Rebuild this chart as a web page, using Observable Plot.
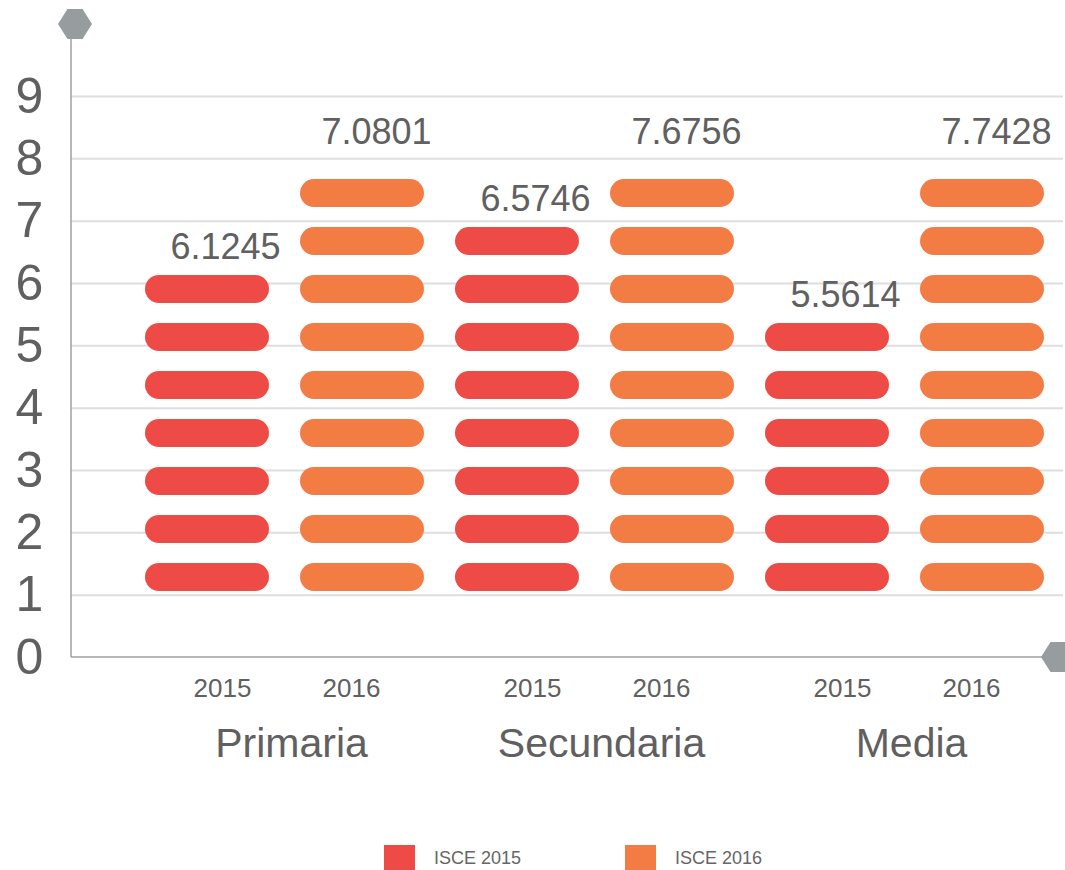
<!DOCTYPE html>
<html>
<head>
<meta charset="utf-8">
<script src="https://cdn.jsdelivr.net/npm/d3@7"></script>
<script src="https://cdn.jsdelivr.net/npm/@observablehq/plot@0.6"></script>
<style>
  html, body { margin: 0; padding: 0; background: #fff; }
  #wrap { position: relative; width: 1065px; height: 870px; overflow: hidden; font-family: "Liberation Sans", Arial, sans-serif; }
  #legend { position: absolute; left: 0; top: 845px; width: 1065px; height: 30px; }
  .sw { position: absolute; top: 0; width: 31px; height: 26px; }
  .lt { position: absolute; top: 4px; font-size: 18px; color: #666; line-height: 18px; }
</style>
</head>
<body>
<div id="wrap">
  <div id="chart"></div>
  <div id="legend"></div>
</div>
<script>
// ---- data ----
const categories = ["Primaria", "Secundaria", "Media"];
const years = ["2015", "2016"];
const values2015 = [6.1245, 6.5746, 5.5614];
const values2016 = [7.0801, 7.6756, 7.7428];
const pills2015 = [7, 8, 6];
const pills2016 = [9, 9, 9];
const yTicks = [0, 1, 2, 3, 4, 5, 6, 7, 8, 9];
const legendLabels = ["ISCE 2015", "ISCE 2016"];
const colors = ["#ef4b46", "#f37c44"];

// ---- layout constants (data units) ----
const pillBase = 1.283, pillStep = 0.770, pillH = 0.45;

const bars = categories.flatMap((c, i) => [
  {cat: c, year: "2015", key: c + " 2015", value: values2015[i], pills: pills2015[i]},
  {cat: c, year: "2016", key: c + " 2016", value: values2016[i], pills: pills2016[i]}
]);
const pills = bars.flatMap(b => d3.range(b.pills).map(i => ({key: b.key, year: b.year, i})));
const tops = bars.map(b => ({...b, top: pillBase + (b.pills - 1) * pillStep}));

const gray = "#606060";
const axisGray = "#9ea2a4";
const hexGray = "#979c9e";

function hex(cx, cy) {
  const w = 17, f = 7.5, h = 15;
  return [[cx - w, cy], [cx - f, cy - h], [cx + f, cy - h], [cx + w, cy], [cx + f, cy + h], [cx - f, cy + h]]
    .map(p => p.join(",")).join(" ");
}

const decor = (index, scales, values, dims) => {
  const g = d3.create("svg:g");
  const x0 = dims.marginLeft;
  const yb = scales.y(0);
  g.append("line").attr("x1", x0).attr("x2", x0).attr("y1", 24).attr("y2", yb)
    .attr("stroke", axisGray).attr("stroke-width", 1.5);
  g.append("line").attr("x1", x0).attr("x2", dims.width - 20).attr("y1", yb).attr("y2", yb)
    .attr("stroke", axisGray).attr("stroke-width", 1.5);
  g.append("polygon").attr("points", hex(75, 24)).attr("fill", hexGray);
  g.append("polygon").attr("points", hex(1058, yb)).attr("fill", hexGray);
  return g.node();
};

const chart = Plot.plot({
  width: 1065,
  height: 800,
  marginLeft: 71,
  marginRight: 2,
  marginTop: 96,
  marginBottom: 143,
  style: {fontFamily: "'Liberation Sans', Arial, sans-serif", background: "#fff"},
  x: {domain: bars.map(d => d.key), range: [127, 1062], paddingInner: 0.198, paddingOuter: 0.099, axis: null},
  y: {domain: [0, 9], axis: null},
  color: {domain: years, range: colors},
  marks: [
    Plot.ruleY(yTicks.filter(d => d > 0), {stroke: "#dedede", strokeWidth: 2}),
    Plot.axisY({ticks: yTicks, tickSize: 0, tickPadding: 0, textAnchor: "middle", dx: -42,
      fontSize: 50, fill: gray, label: null, tickFormat: d => String(d)}),
    Plot.barY(pills, {
      x: "key",
      y1: d => pillBase + d.i * pillStep - pillH / 2,
      y2: d => pillBase + d.i * pillStep + pillH / 2,
      fill: "year", rx: 14
    }),
    Plot.text(tops.filter(d => d.year === "2015"), {x: "key", y: "top", text: d => String(d.value),
      dx: 18, dy: -42, fontSize: 36, fill: gray}),
    Plot.text(tops.filter(d => d.year === "2016"), {x: "key", y: "top", text: d => String(d.value),
      dx: 14, dy: -61, fontSize: 36, fill: gray}),
    Plot.text(bars.filter(d => d.year === "2015"), {x: "key", frameAnchor: "bottom", lineAnchor: "middle", text: "year",
      dx: 15, dy: 31, fontSize: 26, fill: gray}),
    Plot.text(bars.filter(d => d.year === "2016"), {x: "key", frameAnchor: "bottom", lineAnchor: "middle", text: "year",
      dx: -11, dy: 31, fontSize: 26, fill: gray}),
    Plot.text(bars.filter(d => d.year === "2015"), {x: "key", frameAnchor: "bottom", lineAnchor: "middle", text: "cat",
      dx: 84, dy: 86, fontSize: 41, fill: gray}),
    decor
  ]
});
document.getElementById("chart").appendChild(chart);

// ---- legend ----
const legend = d3.select("#legend");
const swX = [384, 625];
legendLabels.forEach((lab, i) => {
  legend.append("div").attr("class", "sw").style("left", swX[i] + "px").style("background", colors[i]);
  legend.append("div").attr("class", "lt").style("left", (swX[i] + 50) + "px").text(lab);
});
</script>
</body>
</html>
